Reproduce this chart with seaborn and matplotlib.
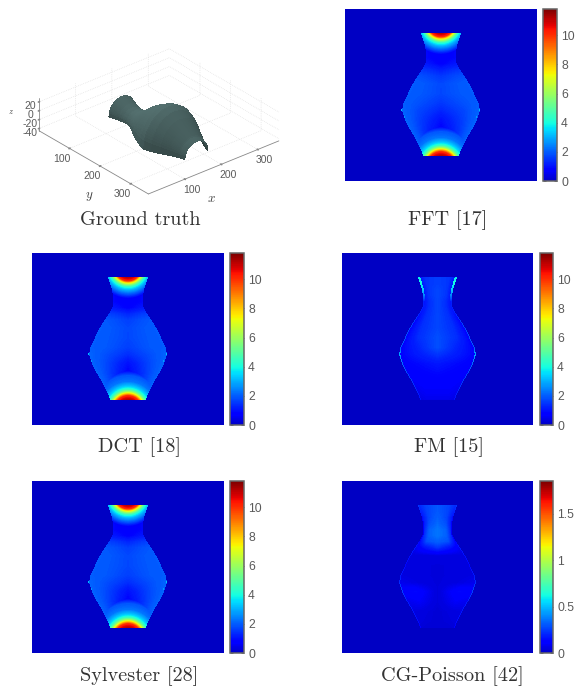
import numpy as np
import matplotlib
matplotlib.use("Agg")
import matplotlib.pyplot as plt
from matplotlib.colors import ListedColormap, LightSource
import seaborn as sns

W, H = 578, 688
PW, PH = 192, 172

# vase outline (panel pixels, from panel top)
row_y = [24, 30, 36, 42, 48, 54, 60, 66, 74, 84, 94, 101, 110, 120, 130, 140, 146]
half_w = [20, 18, 16, 15, 14.5, 15.5, 19, 23, 28, 33, 37.5, 39, 36, 31, 25, 20, 18]
# ground-truth surface height above the base plane, per row
surf_h = [34, 30, 26, 23, 22, 24, 30, 38, 50, 62, 70, 72, 68, 58, 46, 34, 30]

# error levels per row: centre / mid / edge / thin rim
fft_center = [0.8, 0.8, 0.8, 0.8, 0.7, 0.8, 1.2, 1.5, 1.7, 1.7, 1.5, 1.3, 1.0, 0.8, 0.9, 1.2, 1.4]
fft_mid = [0.9, 0.9, 0.9, 0.8, 0.8, 1.0, 1.4, 1.7, 1.9, 1.9, 1.8, 1.7, 1.6, 1.5, 1.5, 1.5, 1.6]
fft_edge = [1.0, 1.0, 0.9, 0.9, 0.9, 1.1, 1.5, 1.8, 2.0, 2.0, 2.0, 2.1, 2.1, 2.1, 2.1, 2.1, 2.1]
dct_center = [0.8, 0.8, 0.8, 0.8, 0.7, 0.8, 1.3, 1.6, 1.7, 1.7, 1.6, 1.4, 1.0, 0.8, 0.9, 1.2, 1.4]
dct_mid = [0.9, 0.9, 0.9, 0.8, 0.8, 1.0, 1.5, 1.8, 1.9, 1.9, 1.9, 1.8, 1.7, 1.6, 1.6, 1.5, 1.6]
dct_edge = [1.0, 1.0, 0.9, 0.9, 0.9, 1.1, 1.6, 1.9, 2.0, 2.0, 2.0, 2.1, 2.1, 2.1, 2.1, 2.1, 2.1]
fm_center = [1.6, 1.6, 1.7, 1.7, 1.7, 1.7, 1.7, 1.7, 1.7, 1.8, 1.8, 1.5, 1.1, 0.9, 0.7, 0.6, 0.5]
fm_mid = [1.5, 1.5, 1.5, 1.5, 1.4, 1.4, 1.4, 1.4, 1.4, 1.4, 1.2, 1.1, 0.9, 0.8, 0.7, 0.6, 0.5]
fm_edge = [1.0, 1.0, 1.0, 1.0, 1.0, 1.0, 0.9, 0.8, 0.8, 0.8, 0.8, 0.8, 0.8, 0.7, 0.6, 0.5, 0.4]
fm_rim = [3.8, 4.0, 3.4, 2.4, 1.2, 1.2, 1.3, 1.5, 1.7, 1.8, 2.0, 2.9, 2.2, 1.7, 1.5, 1.2, 1.0]
fm_rim_w = [2.2, 2.2, 2.0, 1.6, 1, 1, 1, 1, 1, 1, 1, 1.2, 1, 1, 1, 1, 1]
cg_center = [0.30, 0.30, 0.32, 0.34, 0.36, 0.36, 0.32, 0.24, 0.06, 0.04, 0.04, 0.04, 0.04, 0.04, 0.03, 0.03, 0.03]
cg_mid = [0.26, 0.26, 0.26, 0.28, 0.32, 0.32, 0.28, 0.16, 0.05, 0.05, 0.05, 0.06, 0.14, 0.10, 0.05, 0.04, 0.03]
cg_edge = [0.20, 0.18, 0.16, 0.16, 0.18, 0.18, 0.12, 0.08, 0.05, 0.05, 0.06, 0.08, 0.12, 0.08, 0.06, 0.05, 0.04]
cg_rim = [0.24, 0.20, 0.15, 0.12, 0.10, 0.10, 0.13, 0.18, 0.16, 0.14, 0.18, 0.22, 0.26, 0.18, 0.17, 0.15, 0.12]
cg_rim_w = [1] * 17

# hot cap profile: value against distance along concentric arcs from the vase's flat end
cap_top_t = [0, 3.5, 5, 7, 9, 12, 17, 22]
cap_top_v = [11.2, 10, 8, 6, 4.5, 3.2, 1.8, 0.5]
cap_bot_t = [0, 4, 6, 8, 10, 13, 18, 24, 27, 30]
cap_bot_v = [11.2, 10, 8, 6, 4.6, 3.4, 2.3, 1.9, 1.3, 0.5]

cbar_ticks_a = [0, 2, 4, 6, 8, 10]
cbar_ticks_b = [0, 0.5, 1, 1.5]
cbar_labels_a = ["0", "2", "4", "6", "8", "10"]
cbar_labels_b = ["0", "0.5", "1", "1.5"]

captions = ["Ground truth", "FFT [17]", "DCT [18]", "FM [15]", "Sylvester [28]", "CG-Poisson [42]"]
caption_xy = [(140, 220), (448, 220), (139, 447), (449, 447), (139, 676), (452, 676)]

# 3-D ground truth labels
x3_ticks = [100, 200, 300]
z3_ticks = [-40, -20, 0, 20]
z3_labels = ["-40", "-20", "0", "20"]

sns.set_theme(style="white")
jet = plt.get_cmap("jet")
cmap = ListedColormap(jet(np.linspace(0.06, 1, 256)))
GRAY = "#5a5a5a"


def field(center, mid, edge, rim=None, rim_w=None, top=None, bot=None, spots=None):
    yy, xx = np.mgrid[0:PH, 0:PW]
    xc = PW / 2 - 0.5
    hw = np.interp(yy, row_y, half_w)
    dx = np.abs(xx - xc)
    inside = (yy >= row_y[0]) & (yy <= row_y[-1]) & (dx <= hw)
    u = np.clip(dx / hw, 0, 1)
    c = np.interp(yy, row_y, center)
    m = np.interp(yy, row_y, mid)
    e = np.interp(yy, row_y, edge)
    z = np.where(u < 0.6, c + (m - c) * u / 0.6, m + (e - m) * (u - 0.6) / 0.4)
    if rim is not None:
        r = np.interp(yy, row_y, rim)
        w = np.interp(yy, row_y, rim_w)
        z = np.where(hw - dx < w, r, z)
    if top is not None:
        t = np.sqrt(dx ** 2 + (yy - row_y[0] + 10) ** 2) - 10
        z = np.maximum(z, np.interp(t, top[0], top[1], right=0))
    if bot is not None:
        t = np.sqrt(dx ** 2 + (row_y[-1] - yy + 10) ** 2) - 10
        z = np.maximum(z, np.interp(t, bot[0], bot[1], right=0))
    z = np.where(inside, z, 0)
    if spots:
        for sy, sv in spots:
            sw = int(np.interp(sy, row_y, half_w))
            z[sy - 1:sy + 1, int(xc) - sw:int(xc) - sw + 1] = sv
            z[sy - 1:sy + 1, int(xc) + sw:int(xc) + sw + 1] = sv
    return z


def px_axes(x0, y0, x1, y1, **kw):
    return fig.add_axes([x0 / W, 1 - y1 / H, (x1 - x0) / W, (y1 - y0) / H], **kw)


fig = plt.figure(figsize=(W / 100, H / 100), dpi=100, facecolor="white")


def panel(rect, cbrect, z, vmax, ticks, labels):
    ax = px_axes(*rect)
    cax = px_axes(*cbrect)
    sns.heatmap(z, ax=ax, cbar_ax=cax, cmap=cmap, vmin=0, vmax=vmax,
                xticklabels=False, yticklabels=False, rasterized=True)
    cb = ax.collections[0].colorbar
    cb.set_ticks(ticks)
    cb.set_ticklabels(labels)
    cb.outline.set_visible(True)
    cb.outline.set_edgecolor("#666666")
    cb.outline.set_linewidth(1.1)
    cax.tick_params(axis="y", length=2, width=0.5, color="#444444", direction="in", pad=3,
                    labelsize=8.7, labelcolor=GRAY, right=True, left=True)
    for t in cax.get_yticklabels():
        t.set_family("Liberation Sans")


top_cap = (cap_top_t, cap_top_v)
bot_cap = (cap_bot_t, cap_bot_v)
spots_ab = [(101, 3.2), (108, 2.8)]
panel((345, 9, 537, 181), (543, 9, 557, 181),
      field(fft_center, fft_mid, fft_edge, top=top_cap, bot=bot_cap, spots=spots_ab),
      11.8, cbar_ticks_a, cbar_labels_a)
panel((32, 253, 224, 425), (230, 253, 244, 425),
      field(dct_center, dct_mid, dct_edge, top=top_cap, bot=bot_cap, spots=spots_ab),
      11.8, cbar_ticks_a, cbar_labels_a)
panel((342, 253, 533, 425), (540, 253, 553, 425),
      field(fm_center, fm_mid, fm_edge, rim=fm_rim, rim_w=fm_rim_w), 11.8, cbar_ticks_a, cbar_labels_a)
panel((32, 481, 224, 653), (230, 481, 244, 653),
      field(dct_center, dct_mid, dct_edge, top=top_cap, bot=bot_cap, spots=spots_ab),
      11.8, cbar_ticks_a, cbar_labels_a)
panel((342, 481, 533, 653), (540, 481, 553, 653),
      field(cg_center, cg_mid, cg_edge, rim=cg_rim, rim_w=cg_rim_w), 1.85, cbar_ticks_b, cbar_labels_b)

# Ground truth surface
ax3 = fig.add_axes([6 / W, 1 - 230 / H, 300 / W, 215 / H], projection="3d", computed_zorder=False)
ax3.patch.set_alpha(0)
ax3.set_proj_type("ortho")
ax3.view_init(elev=29, azim=-130)
ax3.set_xlim(0, 358)
ax3.set_ylim(358, 0)
ax3.set_zlim(-45, 28)
ax3.set_box_aspect((358, 358, 78), zoom=1.1)
vy = np.linspace(row_y[0], row_y[-1], 90)
vu = np.linspace(-1, 1, 60)
U, V = np.meshgrid(vu, vy)
R = np.interp(V, row_y, half_w)
SH = np.interp(V, row_y, surf_h)
SX = 180 + R * U * 1.75
SY = V * 2.0 + 8
SZ = -40 + np.sqrt(1 - U ** 2) * SH
ax3.plot_surface(SX, SY, SZ, color="#54706f", shade=True, linewidth=0, antialiased=False,
                 rstride=1, cstride=1, lightsource=LightSource(azdeg=200, altdeg=65))
ax3.set_xticks(x3_ticks)
ax3.set_yticks(x3_ticks)
ax3.set_zticks(z3_ticks)
ax3.set_zticklabels(z3_labels)
for a in (ax3.xaxis, ax3.yaxis, ax3.zaxis):
    a.set_pane_color((1, 1, 1, 0))
    a.line.set_color("#888888")
    a.line.set_linewidth(0.6)
    a._axinfo["grid"].update(color="#dcdcdc", linestyle=":", linewidth=0.5)
    a._axinfo["tick"].update(inward_factor=0.05, outward_factor=0.05)
ax3.tick_params(axis="both", labelsize=7.5, labelcolor=GRAY, pad=-3, width=0.4, color="#888888")
ax3.tick_params(axis="z", pad=-5)
for t in ax3.get_xticklabels() + ax3.get_yticklabels() + ax3.get_zticklabels():
    t.set_family("Liberation Sans")

plt.rcParams["mathtext.fontset"] = "cm"
for s, xy in zip([r"$x$", r"$y$", r"$z$"], [(211, 198), (89, 197), (11, 112)]):
    fig.text(xy[0] / W, 1 - xy[1] / H, s, ha="center", va="center", color="#444444",
             fontsize=9.5 if s != r"$z$" else 6)
for s, (cx, cy) in zip(captions, caption_xy):
    fig.text(cx / W, 1 - cy / H, s, ha="center", va="center", family="cmr10", fontsize=14.6, color="#333333")

fig.savefig("out.png", dpi=100)
